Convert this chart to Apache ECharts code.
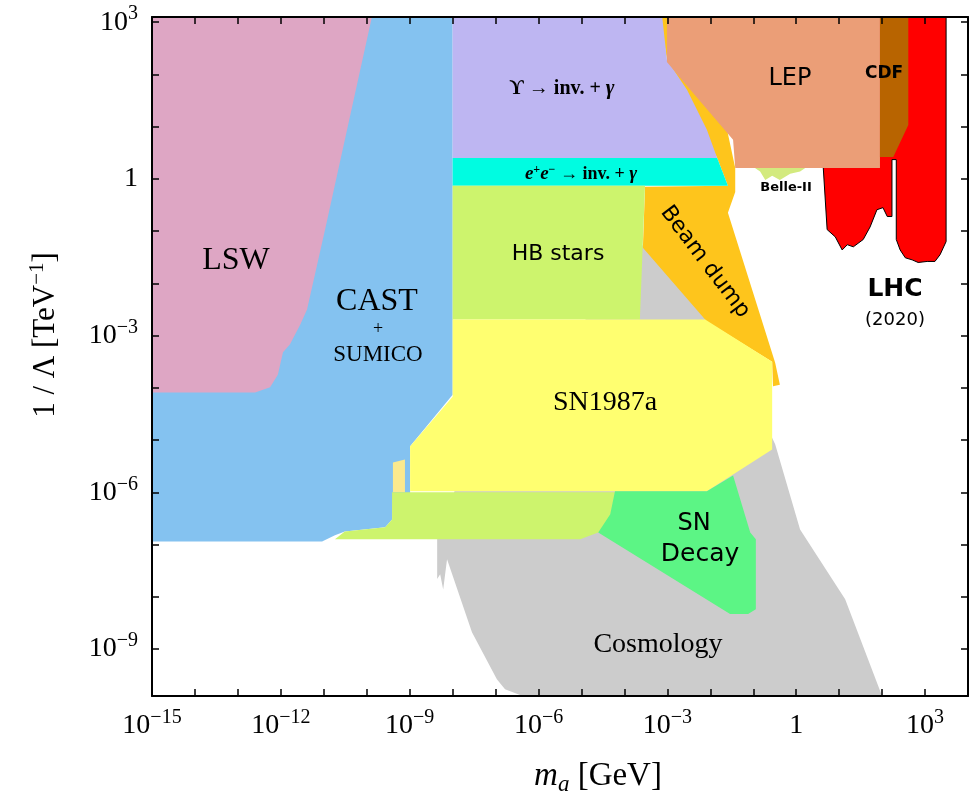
<!DOCTYPE html>
<html>
<head>
<meta charset="utf-8">
<script src="https://cdn.jsdelivr.net/npm/echarts@6/dist/echarts.min.js"></script>
<style>
  html, body { margin: 0; background: #fff; }
  #chart { width: 980px; height: 804px; }
</style>
</head>
<body>
<div id="chart"></div>
<script>
// axis values are log10 exponents: x = log10(m_a / GeV), y = log10(1/Lambda / TeV^-1)
const xTicks = [-14, -13, -12, -11, -10, -9, -8, -7, -6, -5, -4, -3, -2, -1, 0, 1, 2, 3];
const yTicks = [-9, -8, -7, -6, -5, -4, -3, -2, -1, 0, 1, 2, 3];
const xLabels = [-15, -12, -9, -6, -3, 0, 3];
const yLabels = [-9, -6, -3, 0, 3];

// exclusion regions, outline vertices [log10 m, log10 1/Lambda]
const cosmology = [[-3.57, -1.26], [-1.77, -2.88], [-0.49, -5.08], [0.09, -6.71], [1.14, -8.05], [1.99, -9.88],
  [-6.43, -9.88], [-6.78, -9.77], [-6.97, -9.58], [-7.55, -8.68], [-8.13, -7.28], [-8.22, -7.86],
  [-8.29, -7.57], [-8.36, -7.66], [-8.36, -6.90], [-7.94, -5.94]];
const cast = [[-15, 3.1], [-8.0, 3.1], [-8.0, -4.13], [-8.99, -5.12], [-8.99, -6.08], [-9.39, -6.08],
  [-9.41, -6.52], [-9.57, -6.67], [-10.51, -6.75], [-10.74, -6.82], [-11.04, -6.94], [-15, -6.94]];
const lsw = [[-15, 3.1], [-9.88, 3.1], [-10.97, -0.97], [-11.39, -2.50], [-11.55, -2.79], [-11.79, -3.17],
  [-11.95, -3.32], [-12.07, -3.75], [-12.25, -3.99], [-12.60, -4.09], [-15, -4.09]];
const castGap = [[-9.39, -5.43], [-9.11, -5.37], [-9.11, -6.0], [-9.39, -6.0]];
const lhc = [[1.95, 3.1], [3.49, 3.1], [3.49, -1.20], [3.35, -1.45], [3.23, -1.58], [3.05, -1.58],
  [2.84, -1.60], [2.70, -1.55], [2.54, -1.51], [2.42, -1.36], [2.33, -1.16], [2.33, 0.37],
  [2.23, 0.37], [2.23, -0.72], [2.12, -0.72], [2.02, -0.55], [1.88, -0.59], [1.72, -0.92],
  [1.56, -1.16], [1.33, -1.30], [1.19, -1.26], [1.07, -1.36], [0.91, -1.11], [0.72, -0.97],
  [0.63, 0.21], [0.63, 0.75]];
const beamDump = [[-3.17, 3.1], [-2.89, 3.1], [-2.47, 1.90], [-1.61, 0.94], [-1.42, 0.21], [-1.42, -0.25],
  [-1.59, -0.65], [-0.49, -3.52], [-0.38, -3.94], [-0.54, -3.97], [-0.56, -3.50], [-2.08, -2.73],
  [-3.57, -1.32], [-3.52, -0.15], [-1.59, -0.13], [-1.84, 0.40], [-3.01, 2.28]];
const upsilon = [[-8.0, 3.1], [-3.12, 3.1], [-3.01, 2.28], [-2.54, 1.70], [-2.08, 0.94], [-1.84, 0.40], [-8.0, 0.40]];
const eeInv = [[-8.0, 0.40], [-1.84, 0.40], [-1.59, -0.13], [-8.0, -0.13]];
const hbStars = [[-8.0, -0.13], [-3.52, -0.13], [-3.64, -2.69], [-8.0, -2.69]];
const sn1987a = [[-8.0, -2.69], [-2.12, -2.69], [-0.56, -3.50], [-0.56, -5.18], [-2.08, -5.98],
  [-8.99, -5.98], [-8.99, -5.12], [-8.0, -4.17]];
const hbLow = [[-9.41, -6.0], [-4.22, -6.0], [-4.33, -6.46], [-4.61, -6.77], [-5.03, -6.90],
  [-10.74, -6.90], [-10.51, -6.75], [-9.57, -6.67], [-9.41, -6.52]];
const snDecay = [[-4.22, -5.98], [-2.08, -5.98], [-1.47, -5.68], [-1.07, -6.77], [-0.94, -6.90],
  [-0.94, -8.24], [-1.12, -8.33], [-1.54, -8.33], [-4.61, -6.77], [-4.33, -6.42]];
const lep = [[-3.01, 3.1], [1.95, 3.1], [1.95, 0.21], [-1.42, 0.21], [-1.47, 0.75], [-2.56, 1.80],
  [-3.01, 2.24]];
const cdf = [[1.95, 3.1], [2.61, 3.1], [2.61, 1.03], [2.26, 0.42], [1.95, 0.42]];
const belle2 = [[-0.96, 0.21], [0.21, 0.21], [0.09, 0.14], [-0.14, 0.10], [-0.38, -0.02], [-0.56, 0.06],
  [-0.72, -0.02], [-0.84, 0.14]];

function region(name, pts, style) {
  return {
    type: 'custom',
    name: name,
    data: pts,
    encode: { x: 0, y: 1 },
    silent: true,
    animation: false,
    clip: true,
    renderItem: function (params, api) {
      if (params.dataIndex !== 0) return null;
      return {
        type: 'polygon',
        shape: { points: pts.map(function (p) { return api.coord(p); }) },
        style: style
      };
    }
  };
}

function powLabel(v) {
  if (v === 0) return '{b|1}';
  return '{b|10}{s|' + (v < 0 ? '\u2212' + (-v) : v) + '}';
}

const serif = '"Liberation Serif", "DejaVu Serif", serif';
const sans = '"DejaVu Sans", Verdana, sans-serif';
const labelRich = {
  b: { fontFamily: serif, fontSize: 28, lineHeight: 36, color: '#000' },
  s: { fontFamily: serif, fontSize: 20, lineHeight: 20, verticalAlign: 'top', color: '#000' }
};

function axisBase(pos, ticks) {
  return {
    type: 'value',
    position: pos,
    z: 10,
    axisLine: { show: true, onZero: false, lineStyle: { color: '#000', width: 2 } },
    axisTick: { show: true, inside: true, length: 7, customValues: ticks, lineStyle: { color: '#000', width: 1.5 } },
    splitLine: { show: false }
  };
}

const xBottom = Object.assign(axisBase('bottom', xTicks), {
  min: -15, max: 4,
  axisLabel: { customValues: xLabels, margin: 12, formatter: powLabel, rich: labelRich }
});
const xTop = Object.assign(axisBase('top', xTicks), { min: -15, max: 4, axisLabel: { show: false } });
const yLeft = Object.assign(axisBase('left', yTicks), {
  min: -9.9, max: 3.1,
  axisLabel: { customValues: yLabels, margin: 14, formatter: powLabel, rich: labelRich }
});
const yRight = Object.assign(axisBase('right', yTicks), { min: -9.9, max: 3.1, axisLabel: { show: false } });

const glow = { shadowColor: 'rgba(255,255,255,0.9)', shadowBlur: 6 };

function label(text, x, y, font, extra) {
  return {
    type: 'text', z: 100, silent: true,
    rotation: (extra && extra.rotation) || 0,
    x: x, y: y,
    style: Object.assign({ text: text, font: font, fill: '#000', align: 'center', verticalAlign: 'middle' },
      extra && extra.style)
  };
}

const chart = echarts.init(document.getElementById('chart'));
chart.setOption({
  animation: false,
  backgroundColor: '#fff',
  grid: { left: 152, right: 12, top: 17, bottom: 108 },
  xAxis: [xBottom, xTop],
  yAxis: [yLeft, yRight],
  series: [
    region('Cosmology', cosmology, { fill: '#cccccc' }),
    region('CAST + SUMICO', cast, { fill: '#84c2f0' }),
    region('LSW', lsw, { fill: '#dea6c4' }),
    region('SN1987a edge', castGap, { fill: '#fbe98e' }),
    region('LHC', lhc, { fill: '#ff0000', stroke: '#000', lineWidth: 1 }),
    region('Beam dump', beamDump, { fill: '#fec51c' }),
    region('Upsilon', upsilon, { fill: '#beb6f2' }),
    region('ee', eeInv, { fill: '#00fce1' }),
    region('HB stars', hbStars, { fill: '#cdf46d' }),
    region('SN1987a', sn1987a, { fill: '#ffff70' }),
    region('HB low', hbLow, { fill: '#cdf46d' }),
    region('SN Decay', snDecay, { fill: '#5cf585' }),
    region('LEP', lep, { fill: '#eb9e77' }),
    region('CDF', cdf, { fill: '#b86400' }),
    region('Belle-II', belle2, { fill: '#d3ea7e' })
  ],
  graphic: [
    label('LSW', 236, 261, '32px ' + serif, { style: glow }),
    label('CAST', 377, 302, '32px ' + serif, { style: glow }),
    label('+', 378, 329, '18px ' + serif, { style: glow }),
    label('SUMICO', 378, 355, '23px ' + serif, { style: glow }),
    label('{n|\u03D2 \u2192 inv. + }{i|\u03B3}', 562, 89, 'bold 20px ' + serif, {
      style: Object.assign({
        rich: {
          i: { font: 'italic bold 21px ' + serif, lineHeight: 24 },
          n: { font: 'bold 20px ' + serif, lineHeight: 24 }
        }
      }, glow)
    }),
    label('{i|e}{p|+}{i|e}{p|\u2212}{n| \u2192 inv. + }{i|\u03B3}', 581, 174, 'bold 18px ' + serif, {
      style: {
        rich: {
          i: { font: 'italic bold 19px ' + serif, lineHeight: 21 },
          p: { font: 'bold 12px ' + serif, lineHeight: 12, verticalAlign: 'top' },
          n: { font: 'bold 18px ' + serif, lineHeight: 21 }
        }
      }
    }),
    label('HB stars', 558, 254, '22px ' + sans),
    label('Beam dump', 705, 262, '22px ' + sans, { rotation: -53 * Math.PI / 180 }),
    label('LEP', 790, 79, '24px ' + sans),
    label('CDF', 884, 74, 'bold 17px ' + sans),
    label('Belle-II', 786, 188, 'bold 13px ' + sans),
    label('LHC', 895, 289, 'bold 25px ' + sans),
    label('(2020)', 895, 320, '18px ' + sans),
    label('SN1987a', 605, 403, '28px ' + serif, { style: glow }),
    label('SN', 694, 524, '24px ' + sans),
    label('Decay', 700, 554, '25px ' + sans),
    label('Cosmology', 658, 645, '28px ' + serif, { style: glow }),
    label('{n|1 / \u039B [TeV}{s|\u22121}{n|]}', 46, 335, '31px ' + serif, {
      rotation: Math.PI / 2,
      style: {
        rich: {
          n: { font: '31px ' + serif, lineHeight: 38 },
          s: { font: '21px ' + serif, lineHeight: 20, verticalAlign: 'top' }
        }
      }
    }),
    label('{i|m}{a|a}{n| [GeV]}', 598, 776, '33px ' + serif, {
      style: {
        rich: {
          i: { font: 'italic 33px ' + serif, lineHeight: 40 },
          a: { font: 'italic 23px ' + serif, lineHeight: 14, verticalAlign: 'bottom' },
          n: { font: '33px ' + serif, lineHeight: 40 }
        }
      }
    })
  ]
});
</script>
</body>
</html>
